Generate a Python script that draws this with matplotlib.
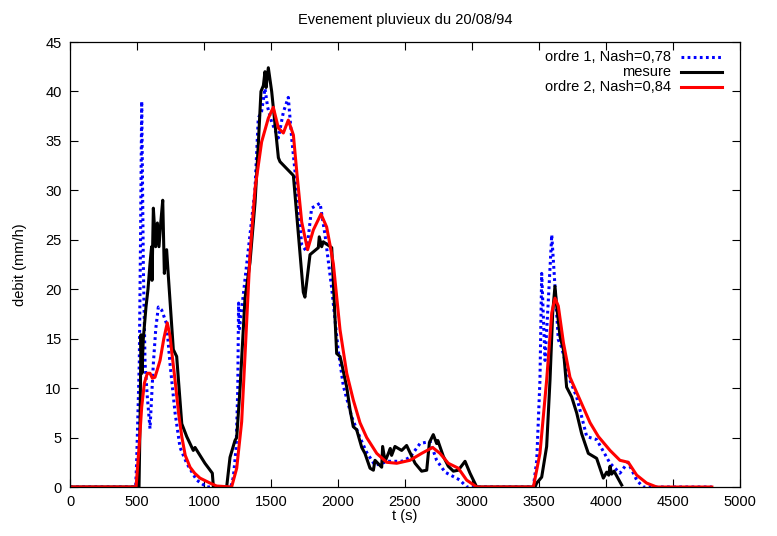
import matplotlib
matplotlib.use("Agg")
import matplotlib.pyplot as plt

plt.rcParams['font.family'] = ['Liberation Sans', 'DejaVu Sans']

# ----------------------------------------------------------------------------------------
# Data
# ----------------------------------------------------------------------------------------
title = "Evenement pluvieux du 20/08/94"
xticks = [0, 500, 1000, 1500, 2000, 2500, 3000, 3500, 4000, 4500, 5000]
yticks = [0, 5, 10, 15, 20, 25, 30, 35, 40, 45]

labels = ["ordre 1, Nash=0,78", "mesure", "ordre 2, Nash=0,84"]

# ordre 1 (blue dotted)
o1_t = [0, 490, 497, 517, 527, 535, 547, 560, 577, 597, 622, 640, 659, 684, 721, 746,
        784, 821, 871, 945, 1020, 1200, 1219, 1240, 1252, 1258, 1265, 1306, 1343, 1380,
        1405, 1430, 1455, 1475, 1505, 1555, 1592, 1629, 1654, 1692, 1729, 1766, 1803,
        1866, 1903, 1953, 2000, 2040, 2102, 2164, 2214, 2276, 2376, 2475, 2537, 2612,
        2687, 2736, 2799, 2910, 2960, 3458, 3483, 3507, 3520, 3545, 3570, 3595, 3644,
        3669, 3731, 3781, 3856, 3930, 4030, 4104, 4164, 4229, 4276, 4790]
o1_q = [0, 0, 2.4, 12.5, 26, 39, 22.6, 12.5, 9.1, 5.9, 12.5, 16, 18.2, 17.9, 16.5, 12.5,
        7.5, 4.0, 2.4, 0.7, 0, 0, 1.0, 4, 10, 18.6, 16, 21, 25.5, 30,
        37.3, 38, 40.3, 38.4, 36.9, 35.3, 37.9, 39.4, 35.3, 30.2, 24.5, 23.8, 28.2,
        28.7, 25.5, 20.1, 14, 10.2, 7.1, 5.0, 3.5, 2.2, 2.6, 2.6, 3.0, 4.4,
        4.6, 2.7, 1.5, 0.7, 0, 0, 2.7, 10.8, 21.6, 12.8, 19, 25.5, 14.9,
        14.1, 10.8, 9.1, 5.1, 4.8, 2.4, 1.4, 2.5, 0.7, 0, 0]

# mesure (black)
mes_t = [0, 515, 522, 530, 537, 547, 567, 582, 597, 609, 612, 622, 639, 652, 664, 677,
         692, 704, 721, 734, 771, 796, 834, 871, 920, 933, 1007, 1062, 1070, 1169, 1194,
         1231, 1244, 1269, 1306, 1343, 1381, 1405, 1425, 1443, 1455, 1463, 1480, 1505,
         1555, 1567, 1667, 1741, 1753, 1791, 1853, 1860, 1878, 1890, 1953, 1990, 2015,
         2027, 2065, 2090, 2114, 2139, 2177, 2201, 2239, 2264, 2276, 2326, 2333, 2351,
         2376, 2390, 2400, 2425, 2475, 2512, 2575, 2624, 2662, 2682, 2711, 2736, 2745,
         2786, 2823, 2861, 2898, 2948, 2985, 3035, 3470, 3483, 3520, 3557, 3582, 3602,
         3619, 3632, 3657, 3682, 3706, 3744, 3781, 3818, 3868, 3930, 3980, 4005, 4020,
         4030, 4042, 4060, 4117]
mes_q = [0, 0, 6, 15.4, 11.5, 15, 18.2, 20, 22.6, 24.3, 20.9, 28.2, 24.3, 26.7, 24.3, 26.7,
         29, 21.6, 24, 21.3, 13.9, 13.2, 6.4, 5.1, 3.7, 4.0, 2.4, 1.4, 0, 0, 3.0,
         4.7, 5.0, 10, 19.1, 22.7, 28.8, 34.6, 40, 40.6, 42, 40.4, 42.4, 40,
         33.3, 32.9, 31.5, 19.7, 19.2, 23.5, 24.2, 25.3, 24.3, 24.8, 24.2, 13.5, 13.2,
         12.5, 10.1, 7.8, 6.1, 5.8, 4.0, 3.4, 1.9, 1.7, 2.7, 2.0, 4.1, 2.6,
         3.4, 3.9, 3.2, 4.1, 3.7, 4.2, 2.4, 1.6, 1.7, 4.5, 5.3, 4.4, 4.7,
         3.1, 2.1, 1.6, 1.7, 2.6, 1.4, 0, 0, 0.4, 1.0, 4.1, 10.8, 17.6,
         20.3, 18.3, 15.2, 13.9, 10.1, 9.1, 7.5, 5.4, 3.4, 2.9, 0.9, 1.5, 1.2,
         2.1, 1.3, 1.6, 0.2]

# ordre 2 (red)
o2_t = [0, 493, 515, 535, 555, 577, 597, 615, 634, 650, 672, 700, 726, 746, 765, 784,
        810, 834, 860, 896, 930, 970, 1045, 1094, 1206, 1244, 1281, 1306, 1343, 1381,
        1430, 1480, 1517, 1555, 1592, 1629, 1667, 1692, 1729, 1773, 1816, 1873, 1915,
        1940, 1965, 2015, 2065, 2114, 2164, 2214, 2289, 2363, 2438, 2537, 2624, 2706,
        2761, 2823, 2898, 2960, 3035, 3458, 3507, 3557, 3595, 3619, 3644, 3682, 3731,
        3806, 3881, 3943, 4030, 4104, 4166, 4229, 4303, 4378, 4790]
o2_q = [0, 0, 4, 8.1, 10.5, 11.5, 11.5, 11, 11.1, 11.8, 12.8, 15, 16.6, 15.3, 13, 10.8,
        7.5, 5.1, 3.2, 2.0, 1.4, 0.9, 0.4, 0.1, 0, 1.9, 6.6, 13.3, 23.5, 30.2,
        34.9, 37.3, 38.4, 36.3, 35.8, 37.1, 35.6, 31.9, 26.8, 24.0, 26.0, 27.6, 26.3,
        24.5, 22.6, 15.9, 11.5, 8.8, 6.5, 5.0, 3.4, 2.5, 2.4, 2.7, 3.4, 4.0,
        3.4, 2.4, 1.9, 0.7, 0, 0, 3.4, 10.8, 17.6, 19.1, 18.3, 14.6, 11.1,
        8.8, 6.5, 5.1, 3.7, 2.7, 2.5, 1.2, 0.4, 0, 0]


def plot_event():
    fig = plt.figure(figsize=(7.77, 5.36), dpi=100)
    ax = fig.add_axes([0.0901, 0.0914, 0.8623, 0.8302])

    fs = 10.5
    styles = [
        dict(color="#0000ff", lw=2.2, ls=(0, (0.9, 1.1))),
        dict(color="black", lw=2.2, ls="-"),
        dict(color="#ff0000", lw=2.2, ls="-"),
    ]
    series = [(o1_t, o1_q), (mes_t, mes_q), (o2_t, o2_q)]

    for (t, q), st in zip(series, styles):
        ax.plot(t, q, **st)

    ax.set_xlim(0, 5000)
    ax.set_ylim(0, 45)
    ax.set_xticks(xticks)
    ax.set_yticks(yticks)
    ax.tick_params(direction="in", top=True, right=True, length=6, width=0.8,
                   labelsize=fs, pad=6)
    for s in ax.spines.values():
        s.set_linewidth(0.9)

    ax.set_title(title, fontsize=fs, pad=13)
    ax.set_xlabel("t (s)", fontsize=fs, labelpad=0)
    ax.set_ylabel("debit (mm/h)", fontsize=fs, labelpad=13)

    # gnuplot-like key: right-aligned text, sample line after it
    key_y = [0.967, 0.933, 0.900]
    for lab, st, y in zip(labels, styles, key_y):
        ax.text(0.897, y, lab, transform=ax.transAxes, ha="right", va="center",
                fontsize=fs)
        ax.plot([0.912, 0.973], [y, y], transform=ax.transAxes, clip_on=False, **st)

    return fig, ax


if __name__ == "__main__":
    f, a = plot_event()
    f.savefig("out.png", dpi=100)
